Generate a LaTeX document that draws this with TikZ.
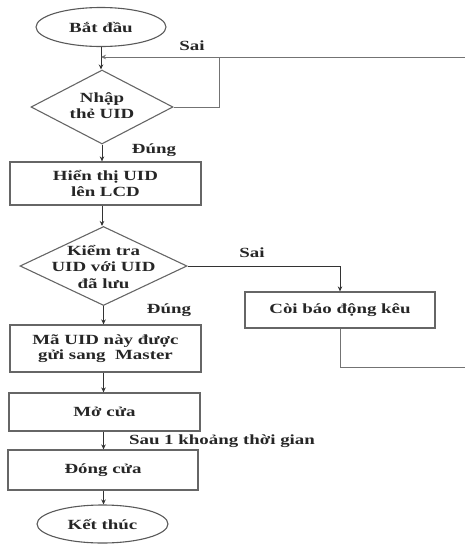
\documentclass[tikz,border=0pt]{standalone}
\usepackage{fontspec}
\setmainfont[FakeStretch=1.35]{Liberation Serif}
\usetikzlibrary{shapes.geometric,arrows.meta}
\begin{document}
\begin{tikzpicture}[x=1pt,y=-1pt,
  txt/.style={font=\fontsize{14}{15.5}\selectfont\bfseries, text=black!85, align=center},
  term/.style={ellipse, draw=black!65, line width=1.1pt, inner sep=0pt, txt},
  proc/.style={rectangle, draw=black!60, line width=1.2pt, inner sep=0pt, txt},
  dec/.style={diamond, draw=black!60, line width=1.1pt, inner sep=0pt},
  tip/.style={-{Stealth[length=5pt,width=4.5pt]}},
  conn/.style={draw=black!80, line width=0.9pt, tip},
  fb/.style={draw=black!55, line width=0.9pt},
  lbl/.style={txt, inner sep=0pt}]
\useasboundingbox (0,0) rectangle (464,544);
\node[term, minimum width=130pt, minimum height=39pt] (start) at (101,27) {Bắt đầu};
\node[dec, minimum width=142pt, minimum height=74pt] (d1) at (102,107) {};
\node[txt, inner sep=0pt] (d1t) at (102,105.5) {Nhập\\thẻ UID};
\node[proc, minimum width=191pt, minimum height=43pt] (b1) at (105.5,183.5) {Hiển thị UID\\lên LCD};
\node[dec, minimum width=167pt, minimum height=79pt] (d2) at (103.5,266) {};
\node[txt, inner sep=0pt, font=\fontsize{14}{16.5}\selectfont\bfseries] (d2t) at (103.5,266.5) {Kiểm tra\\UID với UID\\đã lưu};
\node[proc, minimum width=190pt, minimum height=36pt] (b2) at (340,310) {Còi báo động kêu};
\node[proc, minimum width=191pt, minimum height=47pt] (b3) at (105.5,348.5) {Mã UID này được\\gửi sang\ \ Master};
\node[proc, minimum width=191pt, minimum height=38pt] (b4) at (104.5,412) {Mở cửa};
\node[proc, minimum width=190pt, minimum height=40pt] (b5) at (103,470) {Đóng cửa};
\node[term, minimum width=131pt, minimum height=38pt] (end) at (102.5,524) {Kết thúc};

\node[lbl] (sai1) at (192,46) {Sai};
\node[lbl] (dung1) at (154,150) {Đúng};
\node[lbl] (sai2) at (252,253) {Sai};
\node[lbl] (dung2) at (169,310) {Đúng};
\node[lbl] (sau) at (222,441) {Sau 1 khoảng thời gian};

\coordinate (j) at (start.south |- 0,57);
\coordinate (r1) at (219,57);
\coordinate (rb) at (466,367);
\coordinate (rt) at (466,57);

\draw[conn] (start.south) -- (start.south |- d1.north);
\draw[fb] (d1.east) -| (r1);
\draw[fb, tip] (b2.south) |- (rb) -- (rt) -- (j);
\draw[conn] (d1.south) -- (d1.south |- b1.north);
\draw[conn] (b1.south -| d1.south) -- (d1.south |- d2.north);
\draw[conn] (d2.east) -| (b2.north);
\draw[conn] (d2.south) -- (d2.south |- b3.north);
\draw[conn] (b3.south -| d2.south) -- (d2.south |- b4.north);
\draw[conn] (b4.south -| d2.south) -- (d2.south |- b5.north);
\draw[conn] (b5.south -| d2.south) -- (d2.south |- end.north);
\end{tikzpicture}
\end{document}
